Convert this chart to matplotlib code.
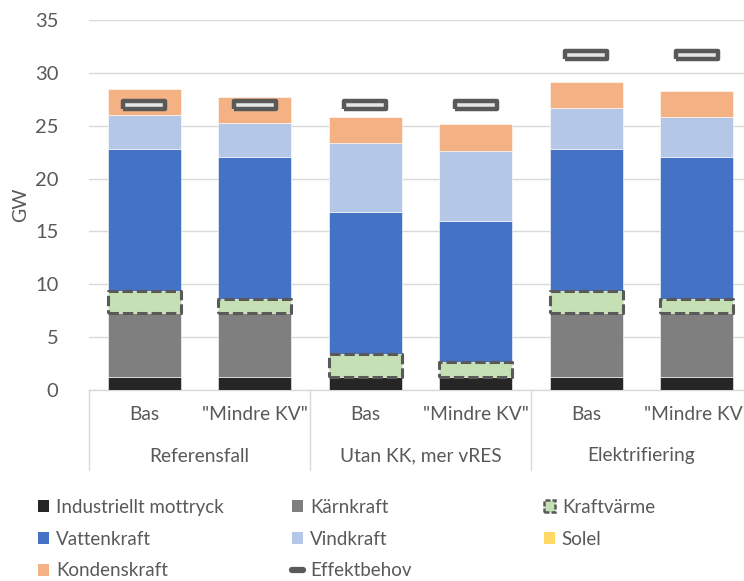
import matplotlib
matplotlib.use("Agg")
import matplotlib.pyplot as plt
from matplotlib.lines import Line2D
from matplotlib.patches import Patch
from matplotlib.markers import MarkerStyle
import matplotlib.transforms as mtransforms
import numpy as np

plt.rcParams["font.family"] = ["Lato", "DejaVu Sans"]

# Scenarios and variants
groups = ["Referensfall", "Utan KK, mer vRES", "Elektrifiering"]
variants = ["Bas", '"Mindre KV"', "Bas", '"Mindre KV"', "Bas", '"Mindre KV"']

# Installed/available capacity per source (GW)
industriellt = [1.2, 1.2, 1.2, 1.2, 1.2, 1.2]
karnkraft = [6.05, 6.05, 0.0, 0.0, 6.05, 6.05]
kraftvarme = [2.15, 1.35, 2.2, 1.42, 2.15, 1.35]
vattenkraft = [13.4, 13.4, 13.4, 13.4, 13.4, 13.4]
vindkraft = [3.2, 3.25, 6.6, 6.6, 3.85, 3.85]
solel = [0.0, 0.0, 0.0, 0.0, 0.0, 0.0]
kondenskraft = [2.45, 2.5, 2.45, 2.5, 2.45, 2.45]
effektbehov = [27.0, 27.0, 27.0, 27.0, 31.7, 31.7]

y_ticks = [0, 5, 10, 15, 20, 25, 30, 35]

TXT = "#595959"
GRID = "#d9d9d9"
C_IND = "#262626"
C_KK = "#7f7f7f"
C_KV = "#c5e0b4"
C_VK = "#4472c4"
C_VIND = "#b4c7e7"
C_SOL = "#ffd966"
C_KOND = "#f4b183"
C_EDGE = "#595959"

W, H = 744, 581
fig = plt.figure(figsize=(W / 100, H / 100), dpi=100)
ax = fig.add_axes([89 / W, (H - 390) / H, 663 / W, 370 / H])

x = np.arange(len(variants))
bw = 0.66
bottom = np.zeros(len(x))

series = [
    ("Industriellt mottryck", industriellt, C_IND),
    ("Kärnkraft", karnkraft, C_KK),
    ("Kraftvärme", kraftvarme, C_KV),
    ("Vattenkraft", vattenkraft, C_VK),
    ("Vindkraft", vindkraft, C_VIND),
    ("Solel", solel, C_SOL),
    ("Kondenskraft", kondenskraft, C_KOND),
]

for name, vals, col in series:
    vals = np.array(vals)
    if name == "Kraftvärme":
        ax.bar(x, vals, bw, bottom=bottom, color=col, edgecolor=C_EDGE,
               linewidth=2.2, linestyle=(0, (3.4, 1.3)), zorder=4,
               joinstyle="round")
    else:
        ax.bar(x, vals, bw, bottom=bottom, color=col, edgecolor="white",
               linewidth=0.4, zorder=3)
    bottom += vals

# Peak demand markers
rect = np.array([[-0.5, -0.1], [0.5, -0.1], [0.5, 0.1], [-0.5, 0.1], [-0.5, -0.1]])
mk = MarkerStyle(rect, joinstyle="round")
ax.plot(x, effektbehov, ls="none", marker=mk, markersize=30,
        markerfacecolor="#e7e6e6", markeredgecolor=C_EDGE,
        markeredgewidth=3.2, zorder=6)

ax.set_xlim(-0.5, 5.5)
ax.set_ylim(0, 35)
ax.set_yticks(y_ticks)
ax.yaxis.grid(True, color=GRID, linewidth=1.0)
ax.set_axisbelow(True)
for s in ["left", "right", "top"]:
    ax.spines[s].set_visible(False)
ax.spines["bottom"].set_color(GRID)
ax.spines["bottom"].set_linewidth(1.0)
ax.tick_params(axis="y", length=0, labelsize=14.5, labelcolor=TXT, pad=22)
ax.set_xticks([])
ax.set_ylabel("GW", fontsize=14, color=TXT, labelpad=4)
ax.yaxis.set_label_coords(-60 / 663, 0.5)

# Category axis labels
trans = mtransforms.blended_transform_factory(ax.transData, ax.transAxes)
for xi, lab in zip(x, variants):
    ax.text(xi, -25 / 370, lab, transform=trans, ha="center", va="center",
            fontsize=13.8, color=TXT, clip_on=False)
for gi, g in enumerate(groups):
    ax.text(2 * gi + 0.5, -66 / 370, g, transform=trans, ha="center",
            va="center", fontsize=13.8, color=TXT, clip_on=False)
for xs in [-0.5, 1.5, 3.5, 5.5]:
    ax.add_line(Line2D([xs, xs], [0, -80 / 370], transform=trans,
                       color=GRID, linewidth=1.0, clip_on=False))

# Legend in three columns
def sq(c):
    return Patch(facecolor=c, edgecolor=c, linewidth=0)

kv_handle = Patch(facecolor=C_KV, edgecolor=C_EDGE, linewidth=1.8,
                  linestyle=(0, (2, 0.8)))
eb_handle = Line2D([0], [0], color=C_EDGE, linewidth=4.5, solid_capstyle="round")

cols = [
    ([sq(C_IND), sq(C_VK), sq(C_KOND)],
     ["Industriellt mottryck", "Vattenkraft", "Kondenskraft"], 38),
    ([sq(C_KK), sq(C_VIND), eb_handle],
     ["Kärnkraft", "Vindkraft", "Effektbehov"], 292),
    ([kv_handle, sq(C_SOL)], ["Kraftvärme", "Solel"], 544),
]
for hs, ls, px in cols:
    leg = fig.legend(hs, ls, loc="upper left",
                     bbox_to_anchor=(px / W, 1 - 499 / H),
                     frameon=False, fontsize=13.5, handlelength=0.6,
                     handleheight=0.6, handletextpad=0.35, labelspacing=0.78,
                     borderpad=0, borderaxespad=0)
    for t in leg.get_texts():
        t.set_color(TXT)

fig.savefig("out.png", dpi=100)
